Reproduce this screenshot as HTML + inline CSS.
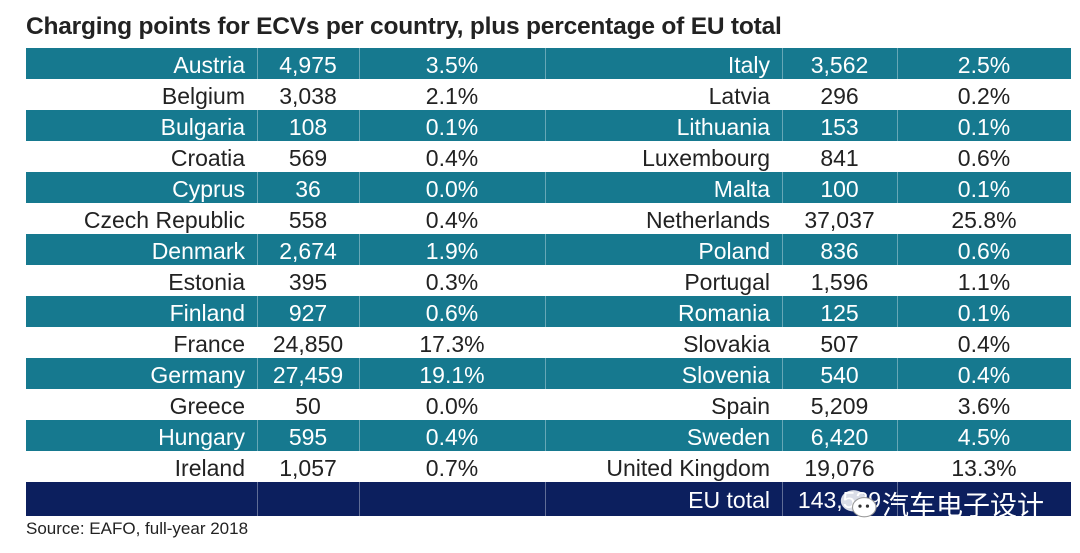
<!DOCTYPE html>
<html><head><meta charset="utf-8"><style>
body{margin:0;background:#fff;width:1080px;height:553px;position:relative;overflow:hidden;font-family:"Liberation Sans","Noto Sans CJK SC",sans-serif;}
#title{position:absolute;left:26px;top:13px;font-size:24.5px;font-weight:bold;color:#222;white-space:nowrap;letter-spacing:-0.2px}
.row{position:absolute;left:26px;width:1045px;height:31px}
.row.t{background:#16798f;color:#fff}
.row.w{background:#fff;color:#222}
.row.n{background:#0c1f5e;color:#fff;height:34px}
.c{position:absolute;top:0;height:100%;font-size:23px;line-height:34px;white-space:nowrap}
.row.n .c{line-height:36px}
.r{text-align:right}.m{text-align:center}
.sep{position:absolute;top:0;height:100%;width:1px;background:rgba(255,255,255,0.35)}
#src{position:absolute;left:26px;top:519px;font-size:17px;color:#222}
#wm{position:absolute;left:838px;top:484px;color:#fff;font-size:27px;font-family:"Noto Sans CJK SC",sans-serif;white-space:nowrap}
</style></head><body>
<div id="title">Charging points for ECVs per country, plus percentage of EU total</div>
<div id="tbl"></div>
<div id="src">Source: EAFO, full-year 2018</div>
<script>
const leftCountries=["Austria","Belgium","Bulgaria","Croatia","Cyprus","Czech Republic","Denmark","Estonia","Finland","France","Germany","Greece","Hungary","Ireland"];
const leftPoints=["4,975","3,038","108","569","36","558","2,674","395","927","24,850","27,459","50","595","1,057"];
const leftPct=["3.5%","2.1%","0.1%","0.4%","0.0%","0.4%","1.9%","0.3%","0.6%","17.3%","19.1%","0.0%","0.4%","0.7%"];
const rightCountries=["Italy","Latvia","Lithuania","Luxembourg","Malta","Netherlands","Poland","Portugal","Romania","Slovakia","Slovenia","Spain","Sweden","United Kingdom"];
const rightPoints=["3,562","296","153","841","100","37,037","836","1,596","125","507","540","5,209","6,420","19,076"];
const rightPct=["2.5%","0.2%","0.1%","0.6%","0.1%","25.8%","0.6%","1.1%","0.1%","0.4%","0.4%","3.6%","4.5%","13.3%"];
const totalLabel="EU total";
const totalPoints="143,539";
const tbl=document.getElementById('tbl');
const X0=26;
function cell(row,txt,l,r,cls,name){
  const d=document.createElement('div');
  d.className='c '+cls;
  d.style.left=(l-X0)+'px';d.style.width=(r-l)+'px';
  d.textContent=txt;
  
  
  row.appendChild(d);
}
function seps(row){
  [257,359,545,782,897].forEach(x=>{const s=document.createElement('div');s.className='sep';s.style.left=(x-X0)+'px';
  
  
  row.appendChild(s);});
}
for(let i=0;i<leftCountries.length;i++){
  const row=document.createElement('div');
  row.className='row '+(i%2===0?'t':'w');
  row.style.top=(48+i*31)+'px';
  
  
  if(i%2===0)seps(row);
  cell(row,leftCountries[i],40,245,'r','country-name');
  cell(row,leftPoints[i],257,359,'m','charging-points');
  cell(row,leftPct[i],359,545,'m','eu-share');
  cell(row,rightCountries[i],560,770,'r','country-name');
  cell(row,rightPoints[i],782,897,'m','charging-points');
  cell(row,rightPct[i],897,1071,'m','eu-share');
  tbl.appendChild(row);
}
const tr=document.createElement('div');
tr.className='row n';
tr.style.top=(48+14*31)+'px';


seps(tr);
cell(tr,totalLabel,560,770,'r','eu-total-label');
cell(tr,totalPoints,782,897,'m','eu-total-value');
tbl.appendChild(tr);
</script>
<div id="wm"><svg width="44" height="32" viewBox="0 0 40 30" style="vertical-align:-5px"><ellipse cx="14" cy="12" rx="12" ry="10" fill="#fff" opacity="0.85"/><ellipse cx="24" cy="18" rx="11" ry="9" fill="#fff" stroke="#999"/><circle cx="20" cy="17" r="1.5" fill="#333"/><circle cx="27" cy="17" r="1.5" fill="#333"/></svg>汽车电子设计</div>
</body></html>
